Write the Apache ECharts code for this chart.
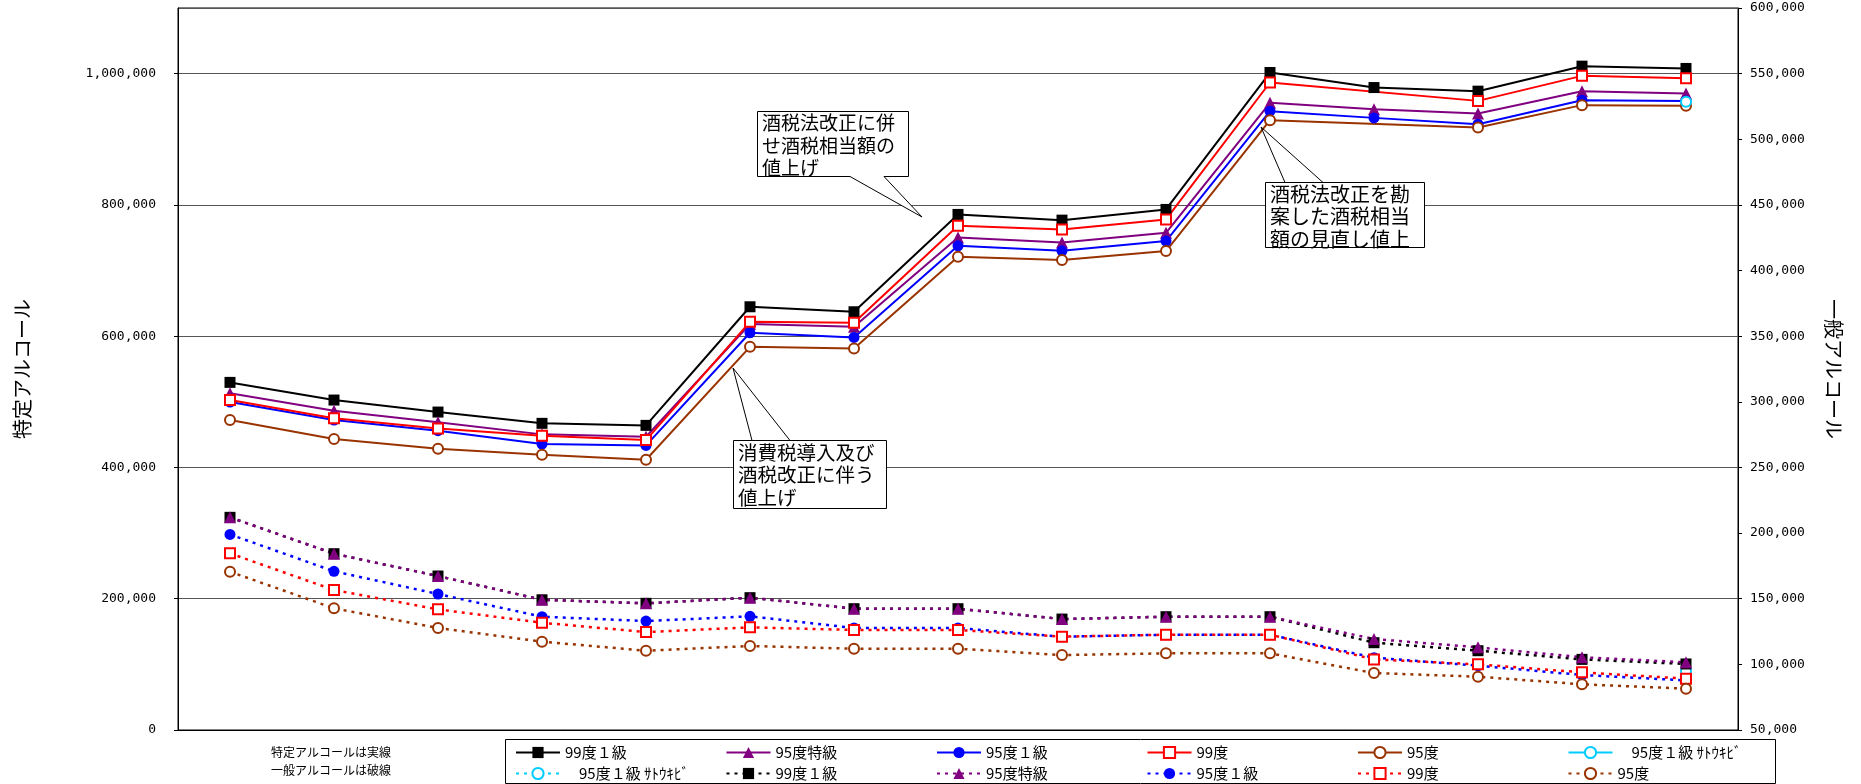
<!DOCTYPE html>
<html><head><meta charset="utf-8">
<script src="https://cdn.jsdelivr.net/npm/echarts@6/dist/echarts.min.js"></script>
<style>html,body{margin:0;padding:0;background:#fff}#c{width:1861px;height:784px}</style>
</head><body><div id="c"></div>
<script>
const categories = ['1','2','3','4','5','6','7','8','9','10','11','12','13','14','15'];
const leftTicks = [0,200000,400000,600000,800000,1000000];
// 特定アルコール（実線・左軸）
const sBlack  = [529600,502700,484400,467200,464100,644800,637200,785500,776800,793100,1001700,978800,973300,1011400,1007900];
const sPurple = [512900,486400,468700,450400,446800,618400,614300,750500,742900,757500,955500,945900,939200,973300,969700];
const sBlue   = [499600,472200,456000,435600,433600,605200,598100,737700,730100,744900,942800,932600,923000,959600,958500];
const sRed    = [502700,474800,459500,448300,441700,621900,620400,768200,762700,777900,986500,null,958500,996600,993100];
const sBrown  = [472200,443200,428500,419300,411700,583800,581400,721000,715900,729700,929100,null,918000,952000,951000];
const sCyan   = [null,null,null,null,null,null,null,null,null,null,null,null,null,null,957000];
// 一般アルコール（破線・右軸）
const dCyan   = [null,null,null,null,null,null,null,null,null,null,null,null,null,null,95000];
const dBlack  = [212000,184300,167300,149200,146500,150800,142400,142400,134500,136300,136300,116500,110400,103800,100300];
const dPurple = [212000,184300,167300,149200,146500,150800,142400,142400,134500,136300,136300,119300,113000,105400,101600];
const dBlue   = [199000,170900,153600,136300,133000,136600,127700,127700,121100,122600,122600,105100,99000,91900,87800];
const dRed    = [184600,156600,141900,131700,124600,128200,126200,126200,121100,122600,122600,103800,100000,93900,89100];
const dBrown  = [170600,142700,127700,117300,110400,114000,111900,111900,107100,108400,108400,93400,90600,84800,81500];

const names1 = ['99度１級','95度特級','95度１級','99度','95度','95度１級 ｻﾄｳｷﾋﾞ'];
const names2 = ['95度１級 ｻﾄｳｷﾋﾞ\u00A0','99度１級\u00A0','95度特級\u00A0','95度１級\u00A0','99度\u00A0','95度\u00A0'];

const C = {black:'#000000', purple:'#800080', blue:'#0000FF', red:'#FF0000', brown:'#993300', cyan:'#00CCFF'};

function solid(name, data, color, symbol, size, bw){
  return {name, type:'line', yAxisIndex:0, data, connectNulls:true, symbol, symbolSize:size,
    lineStyle:{color, width:2, type:'solid'},
    itemStyle:{color, borderColor:color, borderWidth: bw||0},
    emphasis:{disabled:true}, animation:false};
}
function dotted(name, data, color, symbol, size, bw){
  return {name, type:'line', yAxisIndex:1, data, connectNulls:true, symbol, symbolSize:size,
    lineStyle:{color, width:2.5, type:[3,5]},
    itemStyle:{color, borderColor:color, borderWidth: bw||0},
    emphasis:{disabled:true}, animation:false};
}

const series = [
  solid(names1[0], sBlack, C.black, 'rect', 11),
  solid(names1[1], sPurple, C.purple, 'triangle', 12),
  solid(names1[2], sBlue, C.blue, 'circle', 11),
  solid(names1[3], sRed, C.red, 'emptyRect', 10, 2),
  solid(names1[4], sBrown, C.brown, 'emptyCircle', 10, 1.5),
  solid(names1[5], sCyan, C.cyan, 'emptyCircle', 10, 1.5),
  dotted(names2[0], dCyan, C.cyan, 'emptyCircle', 10, 1.5),
  dotted(names2[1], dBlack, C.black, 'rect', 11),
  dotted(names2[2], dPurple, C.purple, 'triangle', 12),
  dotted(names2[3], dBlue, C.blue, 'circle', 11),
  dotted(names2[4], dRed, C.red, 'emptyRect', 10, 2),
  dotted(names2[5], dBrown, C.brown, 'emptyCircle', 10, 1.5)
];

const fmt = v => v.toLocaleString('en-US');
const legends = [];
[names1, names2].forEach((row, r) => {
  row.forEach((n, i) => {
    const isCyan = n.indexOf('ｻﾄｳｷﾋﾞ') >= 0;
    legends.push({orient:'horizontal', left: 515 + i*210.5, top: r === 0 ? 745 : 766,
      itemWidth:44, itemHeight:14, itemGap:0, padding:0, selectedMode:false,
      formatter: s => s.trim(), data:[n],
      textStyle:{fontFamily:'Noto Sans CJK JP', fontSize:15, color:'#000', padding:[0,0,0, isCyan ? 14 : 0]}});
  });
});

const chart = echarts.init(document.getElementById('c'), null, {renderer:'canvas'});
chart.setOption({
  backgroundColor:'#fff',
  animation:false,
  textStyle:{fontFamily:'Noto Sans CJK JP'},
  grid:{left:178, right:123, top:8, bottom:54, show:true, borderColor:'#000', borderWidth:1, containLabel:false},
  xAxis:{type:'category', data:categories, boundaryGap:true,
    axisLine:{show:true, lineStyle:{color:'#000'}}, axisTick:{show:false}, axisLabel:{show:false}, splitLine:{show:false}},
  yAxis:[
    {type:'value', min:0, max:1100000, interval:200000, position:'left',
      name:'特定アルコール', nameLocation:'middle', nameRotate:90, nameGap:146,
      nameTextStyle:{fontFamily:'Noto Sans CJK JP', fontSize:20, color:'#000'},
      axisLine:{show:true, lineStyle:{color:'#000'}}, axisTick:{show:true, length:4, inside:false, lineStyle:{color:'#000'}},
      axisLabel:{showMaxLabel:false, margin:22, fontFamily:'DejaVu Sans Mono', fontSize:13, color:'#000',
        formatter: v => leftTicks.includes(v) ? fmt(v) : ''},
      splitLine:{show:true, lineStyle:{color:'#555', width:1}}},
    {type:'value', min:50000, max:600000, interval:50000, position:'right',
      name:'一般アルコール', nameLocation:'middle', nameRotate:-90, nameGap:86,
      nameTextStyle:{fontFamily:'Noto Sans CJK JP', fontSize:20, color:'#000'},
      axisLine:{show:true, lineStyle:{color:'#000'}}, axisTick:{show:true, length:4, lineStyle:{color:'#000'}},
      axisLabel:{margin:12, fontFamily:'DejaVu Sans Mono', fontSize:13, color:'#000', formatter: fmt},
      splitLine:{show:false}}
  ],
  legend: legends,
  series,
  graphic:[
    {type:'rect', z:0, shape:{x:505.5, y:739.5, width:1270, height:44}, style:{fill:'none', stroke:'#000', lineWidth:1}},
    {type:'text', x:331, y:743, style:{text:'特定アルコールは実線\n一般アルコールは破線', font:'12px "Noto Sans CJK JP"', fill:'#000', align:'center', lineHeight:18}},
    // callout 1
    {type:'polygon', z:100, shape:{points:[[757.5,111.5],[908.5,111.5],[908.5,176.5],[884,176.5],[922,217],[850,176.5],[757.5,176.5]]},
      style:{fill:'#fff', stroke:'#000', lineWidth:1}},
    {type:'text', z:101, x:762, y:112, style:{text:'酒税法改正に併\nせ酒税相当額の\n値上げ', font:'19px "Noto Sans CJK JP"', fill:'#000', lineHeight:22.5}},
    // callout 2
    {type:'polyline', z:100, shape:{points:[[752,440.5],[733,368],[790,440.5]]}, style:{stroke:'#000', lineWidth:1, fill:'none'}},
    {type:'rect', z:100, shape:{x:733.5, y:440.5, width:153, height:68}, style:{fill:'#fff', stroke:'#000', lineWidth:1}},
    {type:'text', z:101, x:738, y:441, style:{text:'消費税導入及び\n酒税改正に伴う\n値上げ', font:'19.5px "Noto Sans CJK JP"', fill:'#000', lineHeight:22.5}},
    // callout 3
    {type:'polyline', z:100, shape:{points:[[1285,182.5],[1261,127],[1323,182.5]]}, style:{stroke:'#000', lineWidth:1, fill:'none'}},
    {type:'rect', z:100, shape:{x:1265.5, y:182.5, width:159, height:65}, style:{fill:'#fff', stroke:'#000', lineWidth:1}},
    {type:'text', z:101, x:1270, y:183, style:{text:'酒税法改正を勘\n案した酒税相当\n額の見直し値上', font:'20px "Noto Sans CJK JP"', fill:'#000', lineHeight:22.5}}
  ]
});
</script></body></html>
